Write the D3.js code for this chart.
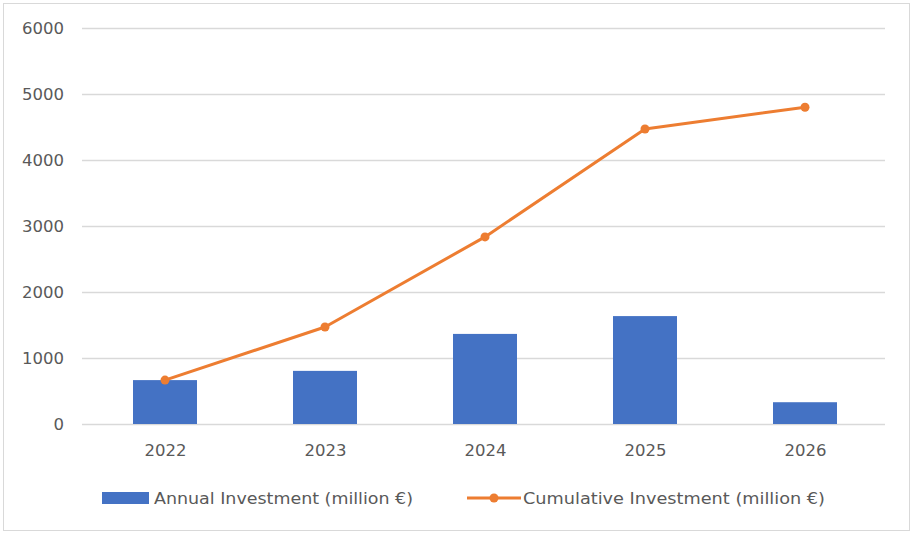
<!DOCTYPE html>
<html><head><meta charset="utf-8">
<script src="https://cdn.jsdelivr.net/npm/d3@7"></script>
<style>body{margin:0;background:#fff}svg{display:block}</style>
</head><body>
<svg id="c" width="913" height="535"></svg>
<script>
const years = ["2022","2023","2024","2025","2026"];
const annual = [665, 805, 1365, 1635, 330];
const cumulative = [665, 1470, 2835, 4470, 4800];
const yTicks = [0,1000,2000,3000,4000,5000,6000];
const seriesNames = ["Annual Investment (million €)","Cumulative Investment (million €)"];

const svg = d3.select("#c");
const font = "DejaVu Sans";
svg.append("rect").attr("x",3.5).attr("y",3.5).attr("width",906).attr("height",527)
  .attr("fill","#fff").attr("stroke","#d9d9d9");

const x = d3.scaleBand().domain(years).range([85,885]).paddingInner(0.6).paddingOuter(0.3);
const xp = d3.scalePoint().domain(years).range([165,805]);
const y = d3.scaleLinear().domain([0,6000]).range([424,28]);

const yAxis = svg.append("g").attr("transform","translate(82,0)")
  .call(d3.axisLeft(y).tickValues(yTicks).tickSize(-803).tickPadding(18).tickFormat(d3.format("d")));
yAxis.select(".domain").remove();
yAxis.selectAll("line").attr("stroke","#d9d9d9").attr("stroke-width",1.5);
yAxis.selectAll("text").attr("fill","#595959").style("font-family",font).style("font-size","16.5px");

const xAxis = svg.append("g").attr("transform","translate(0,424)")
  .call(d3.axisBottom(xp).tickSize(0).tickPadding(20));
xAxis.select(".domain").remove();
xAxis.selectAll("text").attr("fill","#595959").style("font-family",font).style("font-size","16.5px");

svg.append("g").selectAll("rect").data(years).join("rect")
  .attr("x",d=>x(d)).attr("width",x.bandwidth())
  .attr("y",(d,i)=>y(annual[i])).attr("height",(d,i)=>y(0)-y(annual[i]))
  .attr("fill","#4472c4");

const line = d3.line().x((d,i)=>xp(years[i])).y(d=>y(d));
svg.append("path").datum(cumulative).attr("d",line).attr("fill","none")
  .attr("stroke","#ed7d31").attr("stroke-width",3).attr("stroke-linejoin","round");
svg.append("g").selectAll("circle").data(cumulative).join("circle")
  .attr("cx",(d,i)=>xp(years[i])).attr("cy",d=>y(d)).attr("r",4.5).attr("fill","#ed7d31");

// legend
const ly = 498;
svg.append("rect").attr("x",102).attr("y",ly-6).attr("width",47).attr("height",12).attr("fill","#4472c4");
svg.append("text").attr("x",154).attr("y",ly+6).text(seriesNames[0])
  .attr("fill","#595959").style("font-family",font).style("font-size","16px")
  .attr("textLength",259).attr("lengthAdjust","spacingAndGlyphs");
svg.append("line").attr("x1",467).attr("x2",521).attr("y1",ly).attr("y2",ly)
  .attr("stroke","#ed7d31").attr("stroke-width",3);
svg.append("circle").attr("cx",494).attr("cy",ly).attr("r",4.5).attr("fill","#ed7d31");
svg.append("text").attr("x",523).attr("y",ly+6).text(seriesNames[1])
  .attr("fill","#595959").style("font-family",font).style("font-size","16px")
  .attr("textLength",302).attr("lengthAdjust","spacingAndGlyphs");
</script>
</body></html>
